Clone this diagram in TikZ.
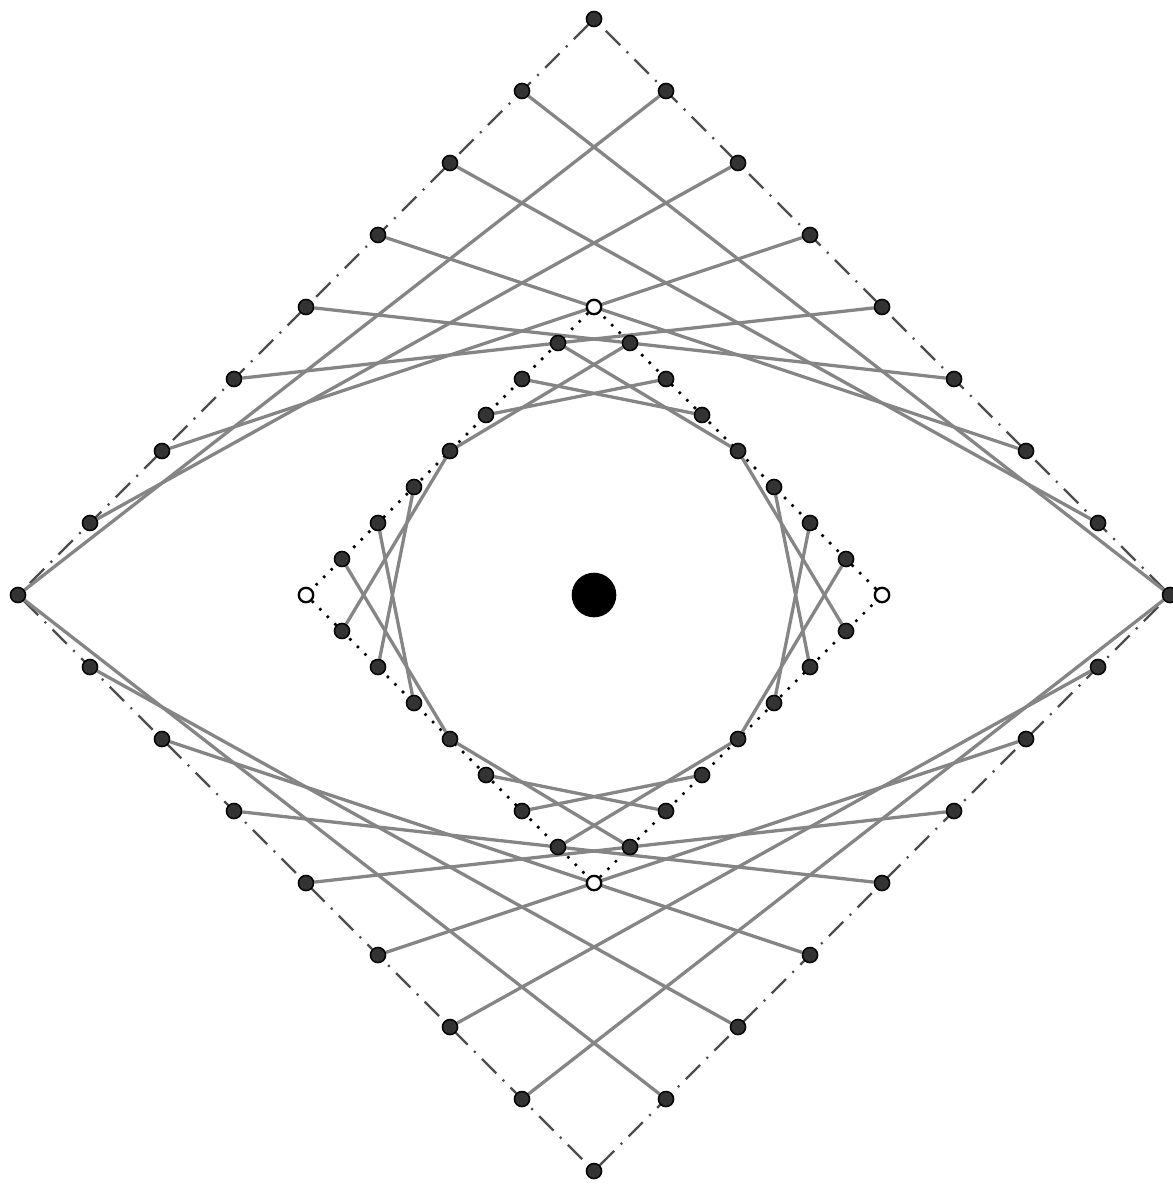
\documentclass[tikz,border=0pt]{standalone}
\usetikzlibrary{backgrounds}

\begin{document}
\begin{tikzpicture}[
  nail/.style={circle,fill=black!80,draw=black,line width=0.3pt,inner sep=0pt,minimum size=0.105cm},
  freenail/.style={circle,fill=white,draw=black,line width=0.45pt,inner sep=0pt,minimum size=0.1cm},
  string/.style={black!48,line width=0.65pt},
  rim/.style={black!70,line width=0.45pt,dash pattern=on 4pt off 1.8pt on 0.4pt off 1.8pt},
  guide/.style={black,line width=0.5pt,dash pattern=on 0.5pt off 1.6pt}]
\useasboundingbox (-4.125,-4.097) rectangle (4.014,4.132);
% outer square of nails
\node[nail] (T) at (0,4) {};
\node[nail] (B) at (0,-4) {};
\node[nail,alias=ul-8,alias=ll-8] (L) at (-4,0) {};
\node[nail,alias=ur-8,alias=lr-8] (R) at (4,0) {};
\foreach \k in {1,...,7} {
  \node[nail] (ul-\k) at (-\k/2,4-\k/2) {};
  \node[nail] (ur-\k) at (\k/2,4-\k/2) {};
  \node[nail] (ll-\k) at (-\k/2,-4+\k/2) {};
  \node[nail] (lr-\k) at (\k/2,-4+\k/2) {};
}
% inner square, corners left free
\node[freenail] (iT) at (0,2) {};
\node[freenail] (iB) at (0,-2) {};
\node[freenail] (iL) at (-2,0) {};
\node[freenail] (iR) at (2,0) {};
\foreach \k in {1,...,7} {
  \node[nail] (iul-\k) at (-\k/4,2-\k/4) {};
  \node[nail] (iur-\k) at (\k/4,2-\k/4) {};
  \node[nail] (ill-\k) at (-\k/4,-2+\k/4) {};
  \node[nail] (ilr-\k) at (\k/4,-2+\k/4) {};
}
\node[circle,fill=black,inner sep=0pt,minimum size=0.31cm] (pupil) at (0,0) {};

\begin{scope}[on background layer]
\draw[rim] (T) -- (L) (L) -- (B) (B) -- (R) (R) -- (T);
\draw[guide] (iT) -- (iL) (iL) -- (iB) (iB) -- (iR) (iR) -- (iT);
% eyelids
\foreach \k in {1,...,8} {
  \pgfmathtruncatemacro\j{9-\k}
  \draw[string] (ul-\k) -- (ur-\j);
  \draw[string] (ll-\k) -- (lr-\j);
}
% iris
\foreach \k in {1,...,4} {
  \pgfmathtruncatemacro\j{5-\k}
  \pgfmathtruncatemacro\m{8-\k}
  \pgfmathtruncatemacro\n{3+\k}
  \draw[string] (iul-\k) -- (iur-\j);
  \draw[string] (ill-\k) -- (ilr-\j);
  \draw[string] (iul-\m) -- (ill-\n);
  \draw[string] (iur-\m) -- (ilr-\n);
}
\end{scope}
\end{tikzpicture}
\end{document}
